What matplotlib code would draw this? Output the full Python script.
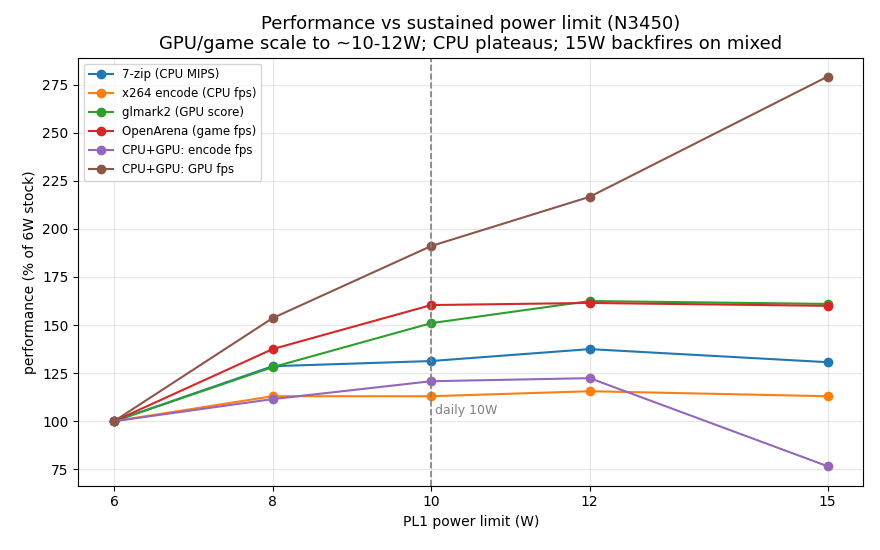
import matplotlib
matplotlib.use("Agg")
import matplotlib.pyplot as plt

pl1 = [6, 8, 10, 12, 15]
zip7 = [100, 128.6, 131.3, 137.5, 130.7]
x264 = [100, 113.0, 113.0, 115.6, 113.0]
glmark2 = [100, 128.1, 151.0, 162.5, 161.0]
openarena = [100, 137.5, 160.4, 161.5, 160.0]
mixed_enc = [100, 111.5, 120.8, 122.4, 76.6]
mixed_gpu = [100, 153.6, 191.1, 216.7, 279.2]
labels = ["7-zip (CPU MIPS)", "x264 encode (CPU fps)", "glmark2 (GPU score)",
          "OpenArena (game fps)", "CPU+GPU: encode fps", "CPU+GPU: GPU fps"]

fig, ax = plt.subplots(figsize=(8.8, 5.5), dpi=100)
fig.subplots_adjust(left=0.089, right=0.981, top=0.895, bottom=0.117)
for s, l in zip([zip7, x264, glmark2, openarena, mixed_enc, mixed_gpu], labels):
    ax.plot(pl1, s, marker="o", label=l)
ax.axvline(10, color="gray", linestyle="--", linewidth=1.2)
ax.text(10.05, 102, "daily 10W", color="gray", fontsize=9, va="bottom")
ax.set_xticks(pl1)
ax.set_ylim(66.5, 289)
ax.set_yticks(range(75, 276, 25))
ax.grid(True, alpha=0.3)
ax.set_xlabel("PL1 power limit (W)")
ax.set_ylabel("performance (% of 6W stock)")
ax.set_title("Performance vs sustained power limit (N3450)\nGPU/game scale to ~10-12W; CPU plateaus; 15W backfires on mixed", fontsize=13)
ax.legend(loc="upper left", fontsize=8.5)
fig.savefig("out.png")
